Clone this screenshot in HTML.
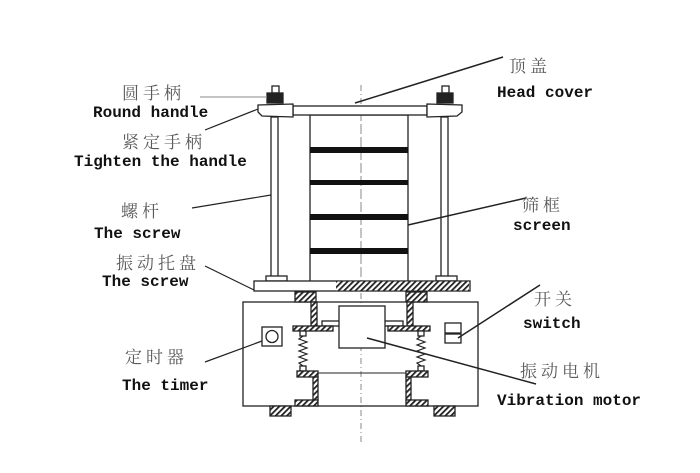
<!DOCTYPE html>
<html><head><meta charset="utf-8"><style>
html,body{margin:0;padding:0;background:#fff;}
svg{display:block;}
.zh{font-family:"Liberation Serif","Noto Serif CJK SC","Noto Sans CJK SC",serif;font-size:17px;letter-spacing:4px;fill:#5a5a5a;}
.en{font-family:"Liberation Mono",monospace;font-size:16px;font-weight:bold;fill:#111;}
</style></head><body>
<svg width="700" height="473" viewBox="0 0 700 473" xmlns="http://www.w3.org/2000/svg">
<defs>
<pattern id="h" patternUnits="userSpaceOnUse" width="4" height="4" patternTransform="rotate(45)">
<rect width="4" height="4" fill="#fff"/><rect width="1.8" height="4" fill="#222"/>
</pattern>
</defs>
<g stroke="#222" stroke-width="1.3" fill="#fff">
<line x1="361" y1="85" x2="361" y2="445" stroke="#888" stroke-width="1" stroke-dasharray="6,3,1,3"/>
<rect x="310" y="115" width="98" height="167" fill="none"/>
<line x1="361" y1="115" x2="361" y2="282" stroke="#888" stroke-width="1" stroke-dasharray="6,3,1,3"/>
<rect x="271" y="117" width="7" height="160"/>
<rect x="441" y="117" width="7" height="160"/>
<rect x="293" y="106" width="134" height="9"/>
<polygon points="258,105 293,104 293,117 262,116 258,112"/>
<polygon points="427,104 462,105 462,112 457,116 427,117"/>
<rect x="272" y="86" width="7" height="7"/>
<rect x="267" y="93" width="16" height="10" fill="#222"/>
<rect x="442" y="86" width="7" height="7"/>
<rect x="437" y="93" width="16" height="10" fill="#222"/>
<rect x="266" y="276" width="21" height="5"/>
<rect x="436" y="276" width="21" height="5"/>
<rect x="254" y="281" width="216" height="10"/>
<rect x="336" y="281.5" width="133" height="9" fill="url(#h)" stroke="none"/>
<rect x="243" y="302" width="235" height="104" fill="none"/>
<rect x="295" y="292" width="21" height="10" fill="url(#h)"/>
<rect x="406" y="292" width="21" height="10" fill="url(#h)"/>
<rect x="311" y="302" width="6" height="24" fill="url(#h)"/>
<rect x="407" y="302" width="6" height="24" fill="url(#h)"/>
<rect x="322" y="321" width="81" height="5" fill="none"/>
<rect x="339" y="306" width="46" height="42"/>
<rect x="293" y="326" width="40" height="5" fill="url(#h)"/>
<rect x="388" y="326" width="42" height="5" fill="url(#h)"/>
<rect x="300" y="331" width="6" height="5"/>
<rect x="418" y="331" width="6" height="5"/>
<polyline fill="none" stroke-width="1.2" points="303,336 299,339 307,342 299,345 307,348 299,351 307,354 299,357 307,360 299,363 303,366"/>
<polyline fill="none" stroke-width="1.2" points="421,336 417,339 425,342 417,345 425,348 417,351 425,354 417,357 425,360 417,363 421,366"/>
<rect x="300" y="366" width="6" height="5"/>
<rect x="418" y="366" width="6" height="5"/>
<line x1="318" y1="373" x2="406" y2="373" stroke-width="1"/>
<rect x="297" y="371" width="21" height="6" fill="url(#h)"/>
<rect x="313" y="377" width="5" height="23" fill="url(#h)"/>
<rect x="295" y="400" width="23" height="6" fill="url(#h)"/>
<rect x="406" y="371" width="22" height="6" fill="url(#h)"/>
<rect x="406" y="377" width="5" height="23" fill="url(#h)"/>
<rect x="406" y="400" width="22" height="6" fill="url(#h)"/>
<rect x="270" y="406" width="21" height="10" fill="url(#h)"/>
<rect x="434" y="406" width="21" height="10" fill="url(#h)"/>
<rect x="262" y="327" width="20" height="19"/>
<circle cx="272" cy="336.5" r="6"/>
<rect x="445" y="323" width="16" height="10"/>
<rect x="445" y="334" width="16" height="9"/>
</g>
<g fill="#111">
<rect x="310" y="147" width="98" height="6"/>
<rect x="310" y="180" width="98" height="5"/>
<rect x="310" y="214" width="98" height="6"/>
<rect x="310" y="248" width="98" height="6"/>
</g>
<g stroke="#222" stroke-width="1.5" fill="none">
<line x1="200" y1="97" x2="267" y2="97" stroke="#888" stroke-width="1"/>
<line x1="205" y1="130" x2="258" y2="109" stroke-width="1.2"/>
<line x1="192" y1="208" x2="271" y2="195" stroke-width="1.2"/>
<line x1="205" y1="266" x2="254" y2="290" stroke-width="1.2"/>
<line x1="355" y1="103" x2="503" y2="57"/>
<line x1="408" y1="225" x2="526" y2="198"/>
<line x1="540" y1="285" x2="458" y2="338"/>
<line x1="367" y1="338" x2="536" y2="384"/>
<line x1="205" y1="362" x2="262" y2="341" stroke-width="1.2"/>
</g>
<text class="zh" x="122" y="99">圆手柄</text>
<text class="en" x="93" y="117">Round handle</text>
<text class="zh" x="122" y="148">紧定手柄</text>
<text class="en" x="74" y="166">Tighten the handle</text>
<text class="zh" x="121" y="217">螺杆</text>
<text class="en" x="94" y="238">The screw</text>
<text class="zh" x="116" y="269">振动托盘</text>
<text class="en" x="102" y="286">The screw</text>
<text class="zh" x="509" y="72">顶盖</text>
<text class="en" x="497" y="97">Head cover</text>
<text class="zh" x="522" y="211">筛框</text>
<text class="en" x="513" y="230">screen</text>
<text class="zh" x="534" y="305">开关</text>
<text class="en" x="523" y="328">switch</text>
<text class="zh" x="125" y="363">定时器</text>
<text class="en" x="122" y="390">The timer</text>
<text class="zh" x="520" y="377">振动电机</text>
<text class="en" x="497" y="405">Vibration motor</text>
</svg>
</body></html>
